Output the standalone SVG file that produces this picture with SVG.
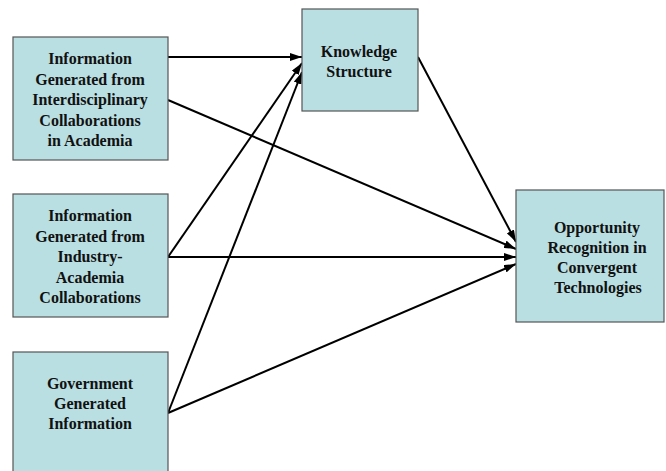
<svg xmlns="http://www.w3.org/2000/svg" width="666" height="471" viewBox="0 0 666 471">
  <defs>
    <marker id="arrow" viewBox="0 0 12 8" refX="12" refY="4" markerWidth="12" markerHeight="8" markerUnits="userSpaceOnUse" orient="auto">
      <path d="M0,0 L12,4 L0,8 Z" fill="#000"/>
    </marker>
    <style>
      .box { fill: #badfe2; stroke: #555; stroke-width: 1.2; }
      .label { font-family: "Liberation Serif", "Times New Roman", serif; font-weight: bold; font-size: 16px; fill: #111; text-anchor: middle; }
      .edge { stroke: #000; stroke-width: 2; fill: none; marker-end: url(#arrow); }
    </style>
  </defs>
  <rect width="666" height="471" fill="#fff"/>

  <g id="connectors">
    <line class="edge" x1="168" y1="57" x2="302" y2="57"/>
    <line class="edge" x1="168" y1="100" x2="516" y2="249"/>
    <line class="edge" x1="168" y1="257" x2="302" y2="63"/>
    <line class="edge" x1="168" y1="257" x2="516" y2="257"/>
    <line class="edge" x1="168" y1="413" x2="302" y2="72"/>
    <line class="edge" x1="168" y1="413" x2="516" y2="264"/>
    <line class="edge" x1="418" y1="57" x2="516" y2="242"/>
  </g>

  <g id="academia">
    <rect class="box" x="13" y="37" width="155" height="123"/>
    <text class="label" x="90" y="64">Information</text>
    <text class="label" x="90" y="84.5">Generated from</text>
    <text class="label" x="90" y="105">Interdisciplinary</text>
    <text class="label" x="90" y="125.5">Collaborations</text>
    <text class="label" x="90" y="146">in Academia</text>
  </g>

  <g id="industry">
    <rect class="box" x="13" y="194" width="155" height="123"/>
    <text class="label" x="90" y="221">Information</text>
    <text class="label" x="90" y="241.5">Generated from</text>
    <text class="label" x="90" y="262">Industry-</text>
    <text class="label" x="90" y="282.5">Academia</text>
    <text class="label" x="90" y="303">Collaborations</text>
  </g>

  <g id="government">
    <rect class="box" x="13" y="352" width="155" height="124"/>
    <text class="label" x="90" y="389">Government</text>
    <text class="label" x="90" y="409">Generated</text>
    <text class="label" x="90" y="429">Information</text>
  </g>

  <g id="knowledge">
    <rect class="box" x="302" y="9" width="116" height="102"/>
    <text class="label" x="359" y="57">Knowledge</text>
    <text class="label" x="359" y="77">Structure</text>
  </g>

  <g id="opportunity">
    <rect class="box" x="516" y="190" width="148" height="132"/>
    <text class="label" x="597" y="233">Opportunity</text>
    <text class="label" x="597" y="253">Recognition in</text>
    <text class="label" x="597" y="273">Convergent</text>
    <text class="label" x="598" y="293">Technologies</text>
  </g>
</svg>
